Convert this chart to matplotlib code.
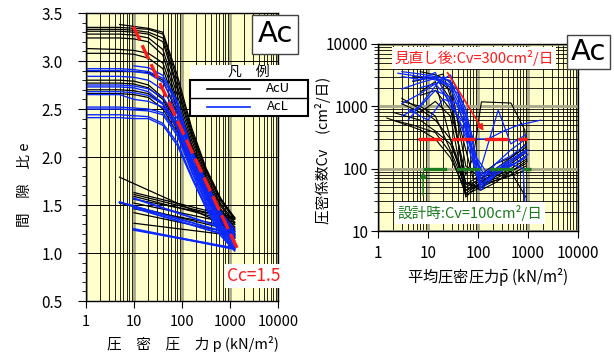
import numpy as np
import matplotlib
matplotlib.use("Agg")
import matplotlib.pyplot as plt
from matplotlib.patches import Rectangle
from matplotlib.lines import Line2D
from matplotlib.ticker import LogLocator, MultipleLocator, FuncFormatter, NullFormatter

plt.rcParams.update({
    "font.family": ["Noto Sans CJK JP", "DejaVu Sans"],
    "lines.scale_dashes": False,
    "axes.linewidth": 1.0,
    "mathtext.fontset": "custom",
    "mathtext.rm": "Noto Sans CJK JP",
})

W, H = 614, 352
BG = "#ffffcc"
BLUE = "#0a28ff"
RED = "#ff1a1a"
GREEN = "#1e7a1e"
DECADE = "#a8a888"

# ---- e - log p data (left) ----
P_LOAD = [1, 5, 10, 20, 40, 80, 160, 320, 640, 1250]
NA = np.nan
ACU_E = [
    [3.35, 3.35, 3.34, 3.33, 3.28, 2.80, 2.27, 1.86, 1.56, 1.37],
    [3.33, 3.33, 3.32, 3.30, 3.24, 2.74, 2.24, 1.84, 1.54, 1.35],
    [3.31, 3.31, 3.30, 3.28, 3.20, 2.70, 2.21, 1.81, 1.51, 1.32],
    [3.28, 3.28, 3.27, 3.24, 3.12, 2.64, 2.17, 1.78, 1.49, 1.30],
    [3.24, 3.24, 3.23, 3.20, 3.06, 2.58, 2.13, 1.75, 1.46, 1.27],
    [3.13, 3.12, 3.11, 3.08, 2.98, 2.55, 2.10, 1.73, 1.44, 1.25],
    [NA, 3.38, 3.36, 3.34, 3.30, 2.85, 2.30, 1.88, 1.57, 1.36],
    [3.08, 3.08, 3.07, 3.03, 2.92, 2.50, 2.06, 1.70, 1.42, 1.23],
    [2.89, 2.89, 2.89, 2.88, 2.80, 2.45, 2.03, 1.67, 1.39, 1.20],
    [2.80, 2.80, 2.79, 2.75, 2.62, 2.35, 1.98, 1.64, 1.36, 1.18],
    [2.77, 2.77, 2.76, 2.72, 2.60, 2.30, 1.95, 1.62, 1.35, 1.17],
    [2.70, 2.70, 2.69, 2.66, 2.55, 2.28, 1.93, 1.60, 1.34, 1.16],
    [2.66, 2.66, 2.65, 2.62, 2.50, 2.25, 1.90, 1.58, 1.32, 1.15],
]
ACU_REB_P = [10, 10, 10, 10, 10, 5, 10, 5, 10, 10, None, None, None]
ACU_REB_E = [1.63, 1.61, 1.59, 1.52, 1.46, 1.79, 1.56, 1.52, 1.42, 1.31, None, None, None]

ACL_E = [
    [2.92, 2.92, 2.91, 2.89, 2.82, 2.55, 2.05, 1.72, 1.40, 1.22],
    [2.90, 2.90, 2.89, 2.87, 2.78, 2.50, 2.02, 1.68, 1.37, 1.19],
    [NA, NA, 2.95, 2.93, 2.85, 2.58, 2.07, 1.74, 1.42, 1.25],
    [2.84, 2.84, 2.83, 2.80, 2.70, 2.45, 1.98, 1.65, 1.34, 1.16],
    [2.75, 2.75, 2.74, 2.71, 2.62, 2.40, 1.95, 1.62, 1.31, 1.13],
    [2.73, 2.73, 2.72, 2.68, 2.56, 2.36, 1.93, 1.60, 1.30, 1.11],
    [2.68, 2.68, 2.67, 2.64, 2.55, 2.33, 1.91, 1.58, 1.28, 1.09],
    [2.65, 2.65, 2.60, 2.58, 2.52, 2.30, 1.89, 1.56, 1.26, 1.07],
    [2.52, 2.52, 2.51, 2.50, 2.46, 2.25, 1.86, 1.53, 1.24, 1.05],
    [2.50, 2.50, 2.49, 2.48, 2.44, 2.22, 1.84, 1.51, 1.22, 1.04],
    [2.44, 2.44, 2.43, 2.42, 2.35, 2.15, 1.80, 1.48, 1.20, 1.03],
    [2.41, 2.41, 2.40, 2.40, 2.33, 2.12, 1.78, 1.46, 1.18, 1.02],
]
ACL_REB_P = [10, 5, None, 10, None, None, None, None, 10, 10, None, None]
ACL_REB_E = [1.57, 1.53, None, 1.47, None, None, None, None, 1.24, 1.25, None, None]

CC_P = [9.7, 1470]
CC_E = [3.36, 1.03]

# ---- Cv - mean p data (right) ----
ACU_CV = [
    ([1.5, 7, 14, 28, 57, 113, 226, 453, 905], [650, 420, 300, 150, 45, 55, 70, 90, 120]),
    ([3, 7, 14, 28, 57, 113, 226, 453, 905], [1340, 900, 600, 300, 60, 50, 75, 100, 140]),
    ([7, 14, 28, 57, 113, 226, 453, 905], [3600, 3200, 2500, 110, 70, 90, 120, 180]),
    ([5, 14, 28, 57, 113, 226, 453, 905], [3000, 2800, 1800, 40, 60, 85, 110, 160]),
    ([3, 7, 14, 28, 57, 113, 226, 453, 905], [1100, 800, 1200, 700, 35, 60, 90, 130, 200]),
    ([7, 14, 28, 57, 80, 117, 457, 860, 950], [1500, 1800, 900, 80, 150, 1180, 1130, 420, 130]),
    ([2, 7, 14, 28, 57, 113, 226, 453, 905], [800, 600, 400, 250, 60, 45, 60, 90, 130]),
    ([3, 7, 14, 28, 57, 113, 226, 453, 905], [1200, 1000, 700, 200, 50, 70, 100, 150, 250]),
    ([5, 14, 28, 57, 113, 226, 453, 905], [2500, 3000, 1300, 55, 80, 120, 150, 220]),
    ([7, 14, 28, 57, 113, 226, 453, 905], [1700, 2500, 300, 45, 65, 80, 90, 35]),
    ([10, 20, 40, 80, 160, 320, 640, 1000], [2800, 3300, 600, 70, 60, 70, 85, 100]),
    ([2, 5, 14, 28, 57, 113, 226, 453, 905], [600, 500, 380, 180, 38, 50, 65, 80, 110]),
]
ACL_CV = [
    ([3, 7, 14, 28, 57, 113, 226, 453, 905], [3600, 3300, 3000, 2600, 700, 80, 100, 140, 200]),
    ([3, 7, 14, 28, 57, 113, 226, 453, 905], [1900, 2400, 2800, 2000, 450, 60, 120, 160, 240]),
    ([4, 10, 20, 40, 80, 160, 320, 640, 1800], [600, 1500, 3000, 1800, 300, 300, 400, 500, 600]),
    ([3, 7, 14, 28, 57, 113, 254, 453, 905], [1100, 1600, 2300, 1200, 350, 100, 870, 250, 350]),
    ([2.5, 7, 14, 28, 57, 113, 226, 453, 800, 900], [3400, 3000, 2900, 2200, 600, 55, 90, 120, 100, 15]),
    ([5, 10, 20, 40, 80, 160, 320, 640, 1000], [2600, 2800, 2500, 1600, 180, 80, 110, 150, 200]),
    ([3, 7, 14, 28, 57, 113, 226, 453, 905], [700, 1000, 1800, 1400, 300, 50, 90, 140, 180]),
    ([7, 14, 28, 57, 113, 226, 453, 905], [2000, 2300, 3200, 900, 70, 120, 200, 300]),
    ([4, 10, 20, 40, 80, 160, 320, 640, 1000], [900, 600, 1300, 1100, 150, 65, 100, 130, 170]),
    ([3, 7, 14, 28, 57, 113, 226, 453, 905], [3000, 2700, 3500, 1000, 500, 45, 80, 110, 150]),
]
CV_AFTER_P = [6.3, 950]
CV_AFTER = [300, 300]
CV_DESIGN_P = [8, 1150]
CV_DESIGN = [100, 100]
RED_ARROW = [(22.9, 3800), (138, 370)]
GREEN_ARROW = [(8, 34), (8, 100)]


def fx(px):
    return px / W


def fy(py):
    return 1 - py / H


def log_locators(axis):
    axis.set_major_locator(LogLocator(base=10, numticks=20))
    axis.set_minor_locator(LogLocator(base=10, subs=range(2, 10), numticks=100))
    axis.set_minor_formatter(NullFormatter())


def style_log_grid(ax):
    ax.set_facecolor(BG)
    ax.set_axisbelow(True)
    log_locators(ax.xaxis)
    ax.grid(which="minor", axis="x", color="black", lw=0.6)
    ax.grid(which="major", axis="x", color=DECADE, lw=2.0)
    for s in ax.spines.values():
        s.set_color("black")


fig = plt.figure(figsize=(W / 100, H / 100), dpi=100)

# ---------------- left: e - log p ----------------
ax1 = fig.add_axes([fx(86), fy(301), (278 - 86) / W, (301 - 13) / H])
ax1.set_xscale("log")
ax1.set_xlim(1, 10000)
ax1.set_ylim(0.5, 3.5)
style_log_grid(ax1)
ax1.yaxis.set_major_locator(MultipleLocator(0.5))
ax1.yaxis.set_minor_locator(MultipleLocator(0.1))
ax1.grid(which="major", axis="y", color="black", lw=0.7)
ax1.yaxis.set_major_formatter(FuncFormatter(lambda v, _: f"{v:.1f}"))
ax1.xaxis.set_major_formatter(FuncFormatter(lambda v, _: f"{v:g}"))
ax1.tick_params(axis="y", which="major", length=6, pad=11, labelsize=11)
ax1.tick_params(axis="y", which="minor", length=3)
ax1.tick_params(axis="x", which="major", length=5, pad=5, labelsize=10.5)
ax1.tick_params(axis="x", which="minor", length=0)

for e, rp, re in zip(ACU_E, ACU_REB_P, ACU_REB_E):
    ax1.plot(P_LOAD, e, color="black", lw=0.9)
    if rp is not None:
        ax1.plot([P_LOAD[-1], rp], [e[-1], re], color="black", lw=0.9)
for e, rp, re in zip(ACL_E, ACL_REB_P, ACL_REB_E):
    ax1.plot(P_LOAD, e, color=BLUE, lw=1.0)
    if rp is not None:
        ax1.plot([P_LOAD[-1], rp], [e[-1], re], color=BLUE, lw=1.4)
ax1.plot(CC_P, CC_E, color=RED, lw=2.4, dashes=(11, 4), zorder=5)

# ---------------- right: Cv - mean p ----------------
ax2 = fig.add_axes([fx(378), fy(231), (578 - 378) / W, (231 - 44) / H])
ax2.set_xscale("log")
ax2.set_yscale("log")
ax2.set_xlim(1, 10000)
ax2.set_ylim(10, 10000)
style_log_grid(ax2)
log_locators(ax2.yaxis)
ax2.grid(which="minor", axis="y", color="black", lw=0.6)
ax2.grid(which="major", axis="y", color=DECADE, lw=2.0)
fmt = FuncFormatter(lambda v, _: f"{v:g}")
ax2.xaxis.set_major_formatter(fmt)
ax2.yaxis.set_major_formatter(fmt)
ax2.tick_params(axis="both", which="major", length=5, labelsize=11)
ax2.tick_params(axis="y", which="major", pad=2)
ax2.tick_params(axis="x", which="major", pad=5)
ax2.tick_params(axis="y", which="minor", length=3)
ax2.tick_params(axis="x", which="minor", length=0)

for pm, cv in ACU_CV:
    ax2.plot(pm, cv, color="black", lw=0.8)
for pm, cv in ACL_CV:
    ax2.plot(pm, cv, color=BLUE, lw=0.9)
ax2.plot(CV_AFTER_P, CV_AFTER, color=RED, lw=2.4, dashes=(17, 7), zorder=5)
ax2.plot(CV_DESIGN_P, CV_DESIGN, color=GREEN, lw=2.4, dashes=(17, 7), zorder=5)
ax2.annotate("", xy=RED_ARROW[1], xytext=RED_ARROW[0],
             arrowprops=dict(arrowstyle="-|>", color=RED, lw=1.2, mutation_scale=9), zorder=6)
ax2.annotate("", xy=GREEN_ARROW[1], xytext=GREEN_ARROW[0],
             arrowprops=dict(arrowstyle="-|>", color=GREEN, lw=1.2, mutation_scale=9), zorder=6)

# ---------------- labels ----------------
fig.text(fx(25), fy(185), "間　隙　比 e", rotation=90, ha="center", va="center", fontsize=10.5)
fig.text(fx(193), fy(344), "圧　密　圧　力 p (kN/m²)", ha="center", va="center", fontsize=10.5)
fig.text(fx(323), fy(150), "圧密係数Cv　(cm²/日)", rotation=90, ha="center", va="center", fontsize=10.5)
fig.text(fx(488), fy(277), "平均圧密圧力$\\bar{\\mathrm{p}}$ (kN/m²)", ha="center", va="center",
         fontsize=11)

# "Ac" boxes
for x0, y0, x1, y1 in [(252, 15, 298, 54), (567, 35, 610, 69)]:
    fig.add_artist(Rectangle((fx(x0), fy(y1)), (x1 - x0) / W, (y1 - y0) / H,
                             transform=fig.transFigure, fc="white", ec="#444444", lw=1.0))
    fig.text(fx((x0 + x1) / 2), fy((y0 + y1) / 2), "Ac", ha="center", va="center",
             fontsize=21, family="DejaVu Sans")

# hand-made legend box (凡例)
fig.add_artist(Rectangle((fx(190), fy(116)), 118 / W, 51 / H, transform=fig.transFigure,
                         fc="white", ec="none"))
fig.add_artist(Rectangle((fx(190), fy(116)), 118 / W, 36 / H, transform=fig.transFigure,
                         fc="none", ec="black", lw=1.5))
fig.add_artist(Line2D([fx(190), fx(308)], [fy(98), fy(98)], transform=fig.transFigure,
                      color="black", lw=1.0))
fig.text(fx(249), fy(72), "凡　例", ha="center", va="center", fontsize=10)
fig.add_artist(Line2D([fx(207), fx(250)], [fy(89), fy(89)], transform=fig.transFigure,
                      color="black", lw=1.2))
fig.add_artist(Line2D([fx(207), fx(250)], [fy(107), fy(107)], transform=fig.transFigure,
                      color=BLUE, lw=1.2))
fig.text(fx(278), fy(89), "AcU", ha="center", va="center", fontsize=9.5)
fig.text(fx(278), fy(107), "AcL", ha="center", va="center", fontsize=9.5)

box = dict(facecolor="white", edgecolor="none", pad=2)
fig.text(fx(254), fy(276), "Cc=1.5", color=RED, ha="center", va="center", fontsize=12.5, bbox=box)
fig.text(fx(474), fy(58), "見直し後:Cv=300cm²/日", color=RED, ha="center", va="center",
         fontsize=10.5, bbox=box)
fig.text(fx(470), fy(213), "設計時:Cv=100cm²/日", color=GREEN, ha="center", va="center",
         fontsize=10.5, bbox=box)

fig.savefig("out.png", dpi=100)
